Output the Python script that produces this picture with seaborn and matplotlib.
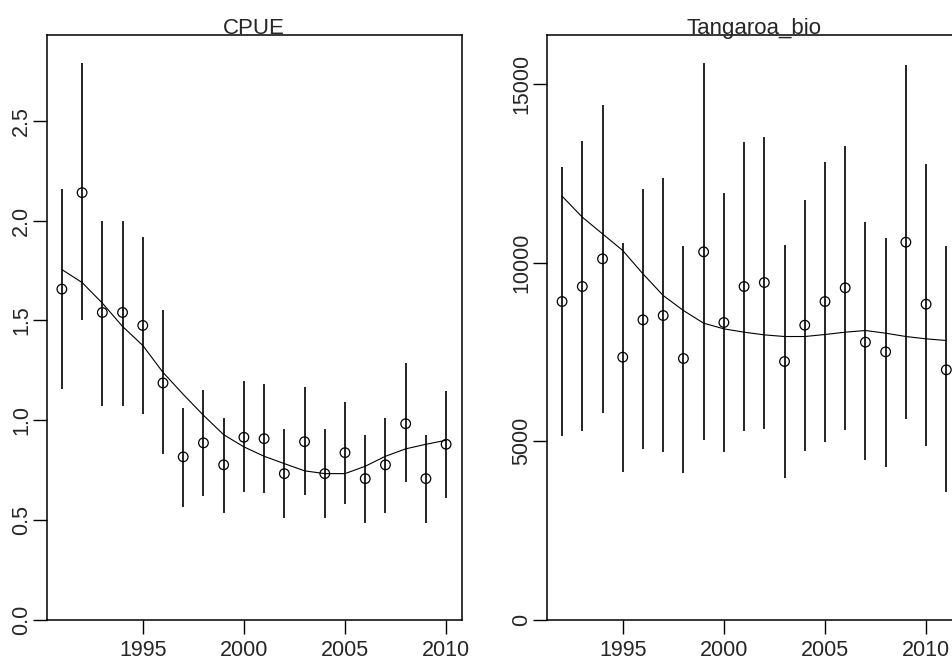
import matplotlib
matplotlib.use("Agg")
import matplotlib.pyplot as plt
import seaborn as sns
import numpy as np
import pandas as pd

# ---- data ----
cpue_years = list(range(1991, 2011))
cpue_obs = [1.657, 2.14, 1.54, 1.54, 1.475, 1.187, 0.817, 0.887, 0.777, 0.915,
            0.908, 0.733, 0.893, 0.733, 0.838, 0.708, 0.777, 0.983, 0.708, 0.88]
cpue_low = [1.155, 1.50, 1.07, 1.07, 1.03, 0.83, 0.565, 0.622, 0.538, 0.642,
            0.635, 0.51, 0.628, 0.51, 0.58, 0.488, 0.538, 0.69, 0.488, 0.613]
cpue_up = [2.157, 2.79, 2.0, 2.0, 1.92, 1.55, 1.063, 1.153, 1.013, 1.195,
           1.18, 0.958, 1.165, 0.958, 1.092, 0.925, 1.013, 1.285, 0.925, 1.145]
cpue_fit = [1.755, 1.69, 1.587, 1.47, 1.375, 1.24, 1.13, 1.025, 0.928, 0.867,
            0.82, 0.783, 0.747, 0.733, 0.733, 0.77, 0.82, 0.857, 0.88, 0.90]

tan_years = list(range(1992, 2012))
tan_obs = [8910, 9330, 10104, 7353, 8397, 8518, 7316, 10300, 8323, 9330,
           9442, 7232, 8248, 8910, 9293, 7773, 7502, 10570, 8835, 6999]
tan_low = [5161, 5292, 5786, 4154, 4788, 4704, 4117, 5022, 4704, 5292,
           5357, 3977, 4742, 4975, 5329, 4471, 4275, 5628, 4854, 3576]
tan_up = [12678, 13405, 14412, 10542, 12052, 12360, 10467, 15587, 11941, 13368,
          13526, 10505, 11745, 12827, 13256, 11130, 10691, 15531, 12752, 10467]
tan_fit = [11857, 11270, 10803, 10337, 9684, 9078, 8658, 8304, 8145, 8052,
           7977, 7931, 7931, 7987, 8052, 8099, 8024, 7931, 7866, 7819]

titles = ["CPUE", "Tangaroa_bio"]
xticks = [1995, 2000, 2005, 2010]
cpue_yticks = [0.0, 0.5, 1.0, 1.5, 2.0, 2.5]
cpue_yticklabels = ["0.0", "0.5", "1.0", "1.5", "2.0", "2.5"]
tan_yticks = [0, 5000, 10000, 15000]
tan_yticklabels = ["0", "5000", "10000", "15000"]

# ---- style ----
sns.set_style("white")
plt.rcParams["font.family"] = ["Liberation Sans", "DejaVu Sans"]

W, H = 952, 659
fig = plt.figure(figsize=(W / 100, H / 100), dpi=100)

def px_axes(left, top, width, height):
    return fig.add_axes([left / W, (H - top - height) / H, width / W, height / H])

ax1 = px_axes(46.5, 35, 415, 585)
ax2 = px_axes(546.7, 35, 415, 585)

panels = [
    (ax1, cpue_years, cpue_obs, cpue_low, cpue_up, cpue_fit, cpue_yticks, cpue_yticklabels),
    (ax2, tan_years, tan_obs, tan_low, tan_up, tan_fit, tan_yticks, tan_yticklabels),
]

for i, (ax, yrs, obs, lo, up, fit, yt, ytl) in enumerate(panels):
    df = pd.DataFrame({"year": yrs, "obs": obs, "low": lo, "up": up, "fit": fit})
    ax.vlines(df["year"], df["low"], df["up"], color="black", linewidth=1.2)
    sns.lineplot(data=df, x="year", y="fit", ax=ax, color="black", linewidth=0.8)
    sns.scatterplot(data=df, x="year", y="obs", ax=ax, s=48, marker="o",
                    facecolor="none", edgecolor="black", linewidth=0.9, zorder=3)
    span = yrs[-1] - yrs[0]
    ax.set_xlim(yrs[0] - 0.04 * span, yrs[-1] + 0.04 * span)
    ax.set_ylim(0, max(up) * 1.05)
    ax.set_xticks(xticks)
    ax.set_xticklabels([str(t) for t in xticks], fontsize=15.5)
    ax.set_yticks(yt)
    ax.set_yticklabels(ytl, fontsize=15.5, rotation=90, va="center")
    ax.tick_params(axis="both", direction="out", length=10, width=1.0, color="black",
                   bottom=True, left=True)
    ax.tick_params(axis="x", pad=4.5)
    ax.tick_params(axis="y", pad=0.5)
    ax.set_xlabel("")
    ax.set_ylabel("")
    ax.set_title(titles[i], fontsize=16, pad=1)
    for sp in ax.spines.values():
        sp.set_visible(True)
        sp.set_color("black")
        sp.set_linewidth(1.1)

fig.savefig("out.png", dpi=100)
